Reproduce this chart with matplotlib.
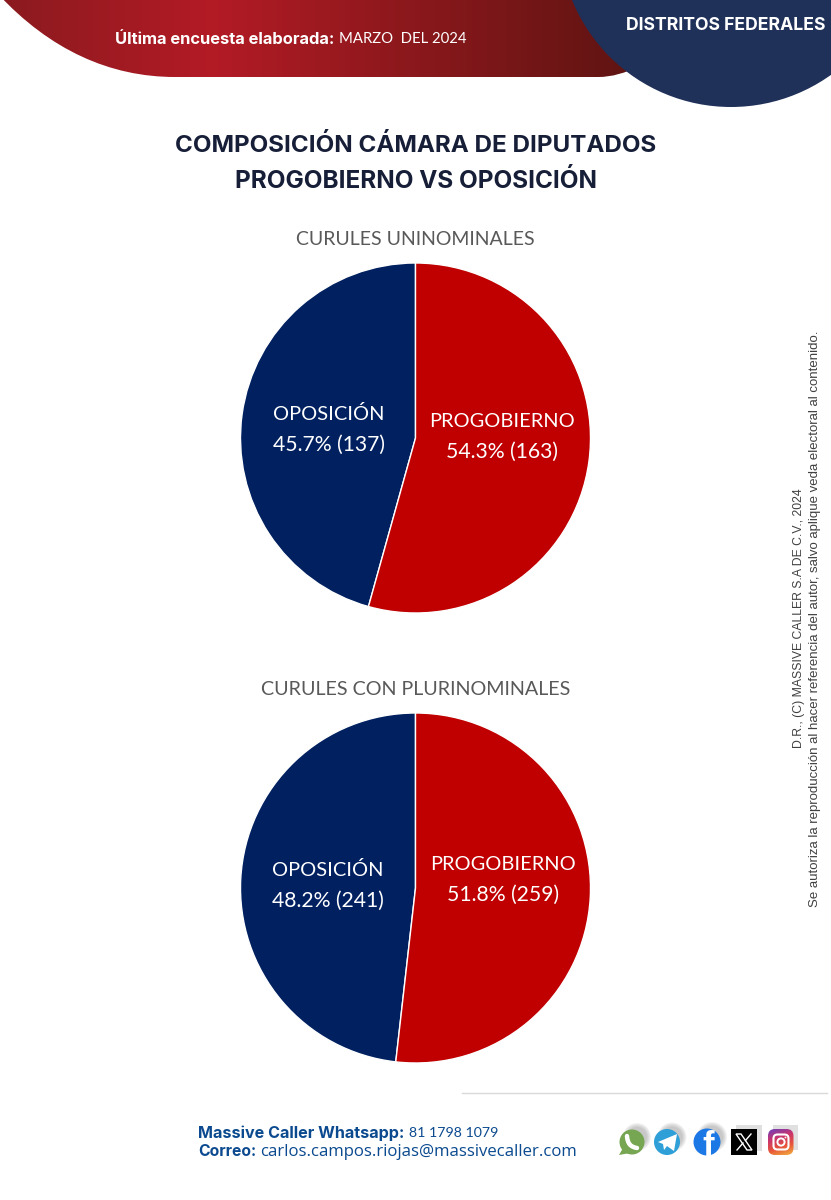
import numpy as np
import matplotlib
matplotlib.use("Agg")
import matplotlib.pyplot as plt
from matplotlib.path import Path
from matplotlib.patches import PathPatch, Circle, Rectangle, FancyBboxPatch, Polygon
from matplotlib.colors import LinearSegmentedColormap

W, H = 831, 1200

# Seat counts per group
group_names = ["OPOSICIÓN", "PROGOBIERNO"]
uninominal_seats = [137, 163]
uninominal_pct = ["45.7%", "54.3%"]
plurinominal_seats = [241, 259]
plurinominal_pct = ["48.2%", "51.8%"]
slice_colors = ["#002060", "#C00000"]

title_lines = ["COMPOSICIÓN CÁMARA DE DIPUTADOS", "PROGOBIERNO VS OPOSICIÓN"]
chart_titles = ["CURULES UNINOMINALES", "CURULES CON PLURINOMINALES"]

SANS = "Inter"
BODY = "Lato"
WIDE = "Open Sans"

fig = plt.figure(figsize=(W / 100, H / 100), dpi=100, facecolor="white")
bg = fig.add_axes([0, 0, 1, 1])
bg.set_xlim(0, W)
bg.set_ylim(H, 0)
bg.axis("off")

# Header band with a horizontal red gradient
red_path = Path(
    [(-2, -6), (50, 50), (110, 77), (175, 77), (598, 77), (612, 77), (625, 73), (640, 66), (690, 66), (690, -6), (-2, -6)],
    [Path.MOVETO, Path.CURVE4, Path.CURVE4, Path.CURVE4, Path.LINETO,
     Path.CURVE4, Path.CURVE4, Path.CURVE4, Path.LINETO, Path.LINETO, Path.CLOSEPOLY],
)
red_cmap = LinearSegmentedColormap.from_list(
    "band", [(0, "#8A1A1F"), (0.33, "#B31B25"), (0.65, "#8A181C"), (1, "#5E1412")]
)
grad = bg.imshow(np.linspace(0, 1, 512)[None, :], cmap=red_cmap, aspect="auto",
                 extent=[0, 640, 80, 0], zorder=1)
grad.set_clip_path(PathPatch(red_path, transform=bg.transData))

bg.add_patch(Circle((731, -64.6), 171.6, fc="#1F3059", ec="none", zorder=2))

bg.text(115, 39, "Última encuesta elaborada:", color="white", fontsize=11.9, fontweight="bold",
        family=SANS, va="center", ha="left", zorder=3)
bg.text(339, 39, "MARZO  DEL 2024", color="white", fontsize=10.7, family=BODY,
        va="center", ha="left", zorder=3)
bg.text(825, 25.5, "DISTRITOS FEDERALES", color="white", fontsize=12.7, fontweight="bold",
        family=SANS, va="center", ha="right", zorder=3)

# Main heading
bg.text(416, 146, title_lines[0], color="#171F38", fontsize=17.4, fontweight="bold",
        family=SANS, va="center", ha="center")
bg.text(416, 181, title_lines[1], color="#171F38", fontsize=17.5, fontweight="bold",
        family=SANS, va="center", ha="center")


def draw_pie(cy, seats, pcts, title, title_y, title_size, label_pos):
    r = 175
    cx = 415.5
    ax = fig.add_axes([(cx - r) / W, 1 - (cy + r) / H, 2 * r / W, 2 * r / H])
    ax.pie(seats, colors=slice_colors, startangle=90, counterclock=True, radius=1,
           wedgeprops={"edgecolor": "white", "linewidth": 1.0})
    ax.set_xlim(-1, 1)
    ax.set_ylim(-1, 1)
    ax.set_aspect("equal")
    ax.axis("off")
    bg.text(cx, title_y, title, color="#595959", fontsize=title_size, family=BODY,
            va="center", ha="center")
    for name, pct, n, (px, py) in zip(group_names, pcts, seats, label_pos):
        ax.text((px - cx) / r, (cy - py) / r, name, color="white", fontsize=14.4, family=BODY,
                va="center", ha="center")
        ax.text((px - cx) / r, (cy - py - 30) / r, f"{pct} ({n})", color="white", fontsize=15.2,
                family=BODY, va="center", ha="center")


draw_pie(438, uninominal_seats, uninominal_pct, chart_titles[0], 239.5, 14, [(329, 414.5), (502, 421.5)])
draw_pie(888, plurinominal_seats, plurinominal_pct, chart_titles[1], 689.5, 14.2, [(328, 870.5), (503, 864.5)])

# Legal notice along the right edge
bg.text(799, 618, "D.R., (C) MASSIVE CALLER S.A DE C.V., 2024", rotation=90, color="#404040",
        fontsize=8.8, family="Liberation Sans", va="center", ha="center")
bg.text(815, 619, "Se autoriza la reproducción al hacer referencia del autor, salvo aplique veda electoral al contenido.",
        rotation=90, color="#404040", fontsize=9.5, family="Liberation Sans", va="center", ha="center")

# Footer
bg.plot([462, 827], [1093, 1093], color="#D9D9D9", lw=1)
FOOT = "#0B4A8F"
bg.text(198, 1133, "Massive Caller Whatsapp:", color=FOOT, fontsize=11.6, fontweight="bold",
        family=SANS, va="center", ha="left")
bg.text(409, 1133, "81 1798 1079", color=FOOT, fontsize=10.2, family=BODY, va="center", ha="left")
bg.text(198, 1152, "Correo:", color=FOOT, fontsize=11.3, fontweight="bold", family=SANS,
        va="center", ha="left")
bg.text(260, 1152, "carlos.campos.riojas@massivecaller.com", color=FOOT, fontsize=12.1, family=WIDE,
        va="center", ha="left")


def soft_shadow(x, y, r):
    # Layered translucent discs give the icons a soft drop shadow up and to the right
    for k in range(5):
        bg.add_patch(Circle((x + 5, y - 5), r + 2 - k, fc="#808080", ec="none", alpha=0.10, zorder=4))


# WhatsApp
soft_shadow(632, 1142, 12)
bg.add_patch(Circle((632, 1142), 12.5, fc="#76A651", ec="none", zorder=5))
bg.add_patch(Polygon([(623, 1148), (619, 1155), (630, 1153)], fc="#76A651", ec="none", zorder=5))
bg.add_patch(PathPatch(Path([(627, 1136), (627.5, 1144), (631, 1147), (637, 1148)],
                            [Path.MOVETO, Path.CURVE4, Path.CURVE4, Path.CURVE4]),
                       fc="none", ec="white", lw=3.2, capstyle="round", zorder=6))

# Telegram
soft_shadow(667, 1142, 12.5)
bg.add_patch(Circle((667, 1142), 13, fc="#2F9FD8", ec="none", zorder=5))
bg.add_patch(Polygon([(658, 1142), (677, 1134), (674, 1151), (667, 1146), (664, 1150), (663, 1144)],
                     fc="white", ec="none", zorder=6))

# Facebook
soft_shadow(707, 1142, 13)
fb_disc = Circle((707, 1142), 13.5, fc="#1C78E5", ec="none", zorder=5)
bg.add_patch(fb_disc)
fb_letter = bg.text(708.5, 1146, "f", color="white", fontsize=25, fontweight="bold",
                    family="Liberation Sans", va="center", ha="center", zorder=6)
fb_letter.set_clip_path(fb_disc)

# X
bg.add_patch(Rectangle((736, 1125), 26, 26, fc="#999999", ec="none", alpha=0.3, zorder=4))
bg.add_patch(Rectangle((731, 1129), 26, 26, fc="black", ec="none", zorder=5))
bg.add_patch(Polygon([(736, 1134), (741, 1134), (752, 1150), (747, 1150)], fc="black", ec="white",
                     lw=1.0, zorder=6))
bg.plot([751, 745.5], [1134, 1140.5], color="white", lw=1.0, zorder=6)
bg.plot([743, 737], [1143, 1150], color="white", lw=1.0, zorder=6)

# Instagram
bg.add_patch(Rectangle((773, 1125), 25, 25, fc="#999999", ec="none", alpha=0.3, zorder=4))
ig_cmap = LinearSegmentedColormap.from_list("ig", ["#6A3FBE", "#C9356F", "#E8553A", "#F2B33D"])
ig_box = FancyBboxPatch((768, 1129), 25.5, 26, boxstyle="round,pad=0,rounding_size=7",
                        fc="none", ec="none", transform=bg.transData)
bg.add_patch(ig_box)
ig_ramp = np.linspace(0, 1, 64)[:, None] * 0.75 + np.linspace(0, 1, 64)[None, :] * 0.25
ig_img = bg.imshow(ig_ramp, cmap=ig_cmap, aspect="auto", extent=[768, 794, 1155, 1129], zorder=5,
                   origin="upper")
ig_img.set_clip_path(ig_box)
bg.add_patch(FancyBboxPatch((773.5, 1134.5), 15, 15, boxstyle="round,pad=0,rounding_size=4",
                            fc="none", ec="white", lw=1.5, zorder=6))
bg.add_patch(Circle((781, 1142), 3.6, fc="none", ec="white", lw=1.4, zorder=6))
bg.add_patch(Circle((785.5, 1137.5), 0.9, fc="white", ec="none", zorder=6))

bg.set_xlim(0, W)
bg.set_ylim(H, 0)
bg.set_aspect("auto")

fig.savefig("out.png", dpi=100, facecolor="white")
